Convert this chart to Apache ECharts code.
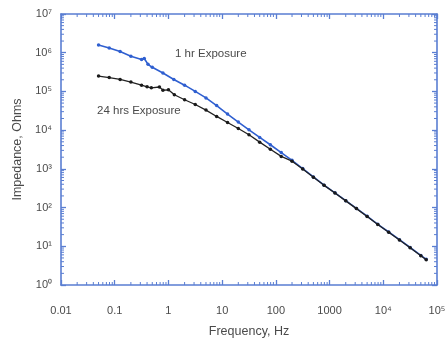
<!DOCTYPE html>
<html>
<head>
<meta charset="utf-8">
<script src="https://cdn.jsdelivr.net/npm/echarts@6/dist/echarts.min.js"></script>
<style>
html,body{margin:0;padding:0;background:#fff;}
#chart{width:446px;height:345px;}
</style>
</head>
<body>
<div id="chart"></div>
<script>
// 1 hr exposure (blue)
var freq1 = [0.05, 0.079, 0.126, 0.2, 0.316, 0.355, 0.417, 0.5, 0.79, 1.26, 2.0, 3.16, 5.0, 7.9, 12.6, 20, 31.6, 50, 79, 126, 200, 316, 500, 790, 1260, 2000, 3160, 5000, 7900, 12600, 20000, 31600, 50000, 63000];
var imp1 = [1.58e6, 1.32e6, 1.07e6, 8.1e5, 6.7e5, 7.1e5, 5.0e5, 4.2e5, 3.0e5, 2.04e5, 1.45e5, 1.0e5, 6.8e4, 4.3e4, 2.6e4, 1.62e4, 1.02e4, 6500, 4200, 2630, 1660, 1020, 620, 380, 240, 151, 95, 60, 37, 23.4, 14.8, 9.3, 5.8, 4.6];
// 24 hrs exposure (black)
var freq24 = [0.05, 0.079, 0.126, 0.2, 0.316, 0.4, 0.48, 0.68, 0.79, 1.0, 1.29, 2.0, 3.16, 5.0, 7.9, 12.6, 20, 31.6, 50, 79, 126, 200, 316, 500, 790, 1260, 2000, 3160, 5000, 7900, 12600, 20000, 31600, 50000, 63000];
var imp24 = [2.5e5, 2.28e5, 2.04e5, 1.74e5, 1.45e5, 1.32e5, 1.24e5, 1.3e5, 1.08e5, 1.1e5, 8.2e4, 6.1e4, 4.6e4, 3.3e4, 2.26e4, 1.58e4, 1.10e4, 7.6e3, 4.9e3, 3.2e3, 2.1e3, 1.58e3, 990, 610, 375, 237, 149, 94, 59, 36.5, 23, 14.6, 9.2, 5.7, 4.5];

var xTickLabels = ['0.01', '0.1', '1', '10', '100', '1000', '10\u2074', '10\u2075'];
var yTickLabels = ['10\u2070', '10\u00b9', '10\u00b2', '10\u00b3', '10\u2074', '10\u2075', '10\u2076', '10\u2077'];
var seriesNames = ['1 hr Exposure', '24 hrs Exposure'];
var xTitle = 'Frequency, Hz';
var yTitle = 'Impedance, Ohms';

var X_MIN = 0.01, X_MAX = 100000, Y_MIN = 1, Y_MAX = 1e7;

function pairs(xs, ys) { return xs.map(function (x, i) { return [x, ys[i]]; }); }

// minor tick positions (2..9 within each decade) for the frame decoration
var minorTicks = [];
(function () {
  var k, m;
  for (k = -2; k < 5; k++) for (m = 2; m <= 9; m++) minorTicks.push([m * Math.pow(10, k), Y_MIN, 0]);
  for (k = 0; k < 7; k++) for (m = 2; m <= 9; m++) minorTicks.push([X_MIN, m * Math.pow(10, k), 1]);
})();

var frameColor = '#5a7ed2';
var textColor = '#4a4a4a';
var fontFamily = 'Liberation Sans, Arial, sans-serif';

function xAxisCfg(pos, showLabel) {
  return {
    type: 'log', logBase: 10, min: X_MIN, max: X_MAX, interval: 1, position: pos,
    axisLine: { show: true, onZero: false, lineStyle: { color: frameColor, width: 1.6 } },
    axisTick: { show: true, inside: true, length: 5, lineStyle: { color: frameColor, width: 1.3 } },
    splitLine: { show: false },
    axisLabel: {
      show: showLabel, margin: 20, color: textColor, fontSize: 11, fontFamily: fontFamily,
      formatter: function (v) { return xTickLabels[Math.round(Math.log10(v)) + 2]; }
    },
    name: showLabel ? xTitle : '', nameLocation: 'middle', nameGap: 40,
    nameTextStyle: { color: textColor, fontSize: 12.5, fontFamily: fontFamily }
  };
}
function yAxisCfg(pos, showLabel) {
  return {
    type: 'log', logBase: 10, min: Y_MIN, max: Y_MAX, interval: 1, position: pos,
    axisLine: { show: true, onZero: false, lineStyle: { color: frameColor, width: 1.6 } },
    axisTick: { show: true, inside: true, length: 5, lineStyle: { color: frameColor, width: 1.3 } },
    splitLine: { show: false },
    axisLabel: {
      show: showLabel, margin: 9, color: textColor, fontSize: 11, fontFamily: fontFamily,
      formatter: function (v) { return yTickLabels[Math.round(Math.log10(v))]; }
    },
    name: showLabel ? yTitle : '', nameLocation: 'middle', nameGap: 36,
    nameTextStyle: { color: textColor, fontSize: 12.5, fontFamily: fontFamily }
  };
}

var chart = echarts.init(document.getElementById('chart'), null, { renderer: 'canvas' });
chart.setOption({
  animation: false,
  backgroundColor: '#ffffff',
  grid: { left: 61, right: 9, top: 14, bottom: 60, containLabel: false, outerBoundsMode: 'none' },
  xAxis: [xAxisCfg('bottom', true), xAxisCfg('top', false)],
  yAxis: [yAxisCfg('left', true), yAxisCfg('right', false)],
  series: [
    {
      type: 'custom', data: minorTicks, silent: true, clip: false, z: 1,
      renderItem: function (params, api) {
        var kind = api.value(2);
        var style = { stroke: frameColor, lineWidth: 1 };
        var a, b;
        if (kind === 0) {
          a = api.coord([api.value(0), Y_MIN]);
          b = api.coord([api.value(0), Y_MAX]);
          return { type: 'group', children: [
            { type: 'line', shape: { x1: a[0], y1: a[1], x2: a[0], y2: a[1] - 3 }, style: style },
            { type: 'line', shape: { x1: b[0], y1: b[1], x2: b[0], y2: b[1] + 3 }, style: style }
          ] };
        }
        a = api.coord([X_MIN, api.value(1)]);
        b = api.coord([X_MAX, api.value(1)]);
        return { type: 'group', children: [
          { type: 'line', shape: { x1: a[0], y1: a[1], x2: a[0] + 3, y2: a[1] }, style: style },
          { type: 'line', shape: { x1: b[0], y1: b[1], x2: b[0] - 3, y2: b[1] }, style: style }
        ] };
      }
    },
    {
      name: seriesNames[0], type: 'line', data: pairs(freq1, imp1), z: 3,
      symbol: 'circle', symbolSize: 3.5, showSymbol: true,
      lineStyle: { color: '#2f5fd0', width: 1.6 }, itemStyle: { color: '#2f5fd0' }
    },
    {
      name: seriesNames[1], type: 'line', data: pairs(freq24, imp24), z: 4,
      symbol: 'circle', symbolSize: 3.5, showSymbol: true,
      lineStyle: { color: '#222222', width: 1.3 }, itemStyle: { color: '#1a1a1a' }
    }
  ],
  graphic: [
    { type: 'text', left: 175, top: 48, style: { text: seriesNames[0], fill: textColor, fontSize: 11.5, fontFamily: fontFamily } },
    { type: 'text', left: 97, top: 105, style: { text: seriesNames[1], fill: textColor, fontSize: 11.5, fontFamily: fontFamily } }
  ]
});
</script>
</body>
</html>
